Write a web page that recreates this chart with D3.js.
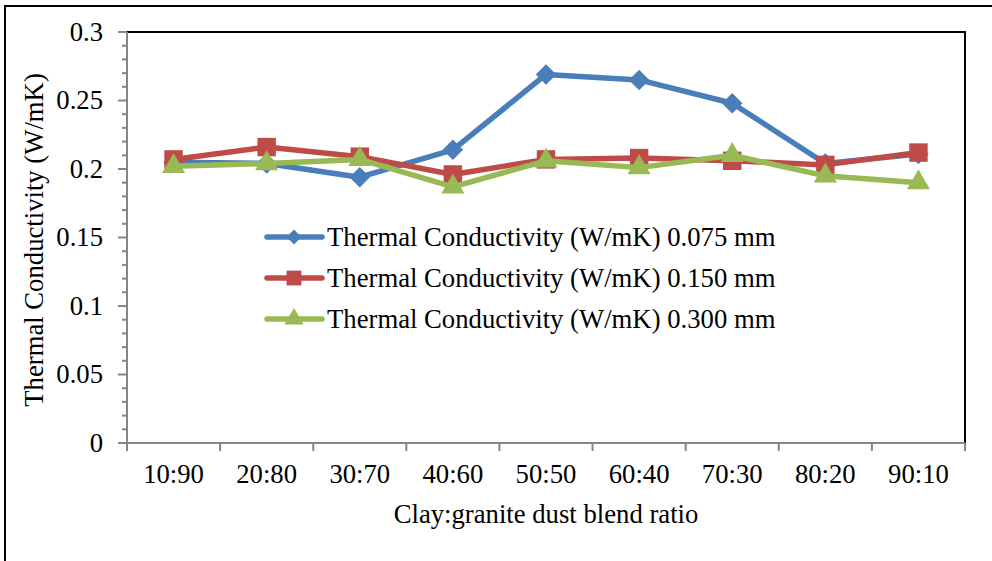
<!DOCTYPE html>
<html>
<head>
<meta charset="utf-8">
<script src="https://cdn.jsdelivr.net/npm/d3@7"></script>
<style>
  body { margin: 0; background: #fff; }
  text { font-family: "Liberation Serif", "Times New Roman", serif; fill: #000; }
</style>
</head>
<body>
<div id="chart"></div>
<script>
// data
const ratios = ["10:90", "20:80", "30:70", "40:60", "50:50", "60:40", "70:30", "80:20", "90:10"];
const tc075 = [0.205, 0.204, 0.194, 0.214, 0.269, 0.265, 0.248, 0.204, 0.211];
const tc150 = [0.207, 0.216, 0.209, 0.196, 0.207, 0.208, 0.206, 0.203, 0.212];
const tc300 = [0.202, 0.204, 0.207, 0.187, 0.206, 0.201, 0.210, 0.195, 0.190];
const seriesNames = [
  "Thermal Conductivity (W/mK) 0.075 mm",
  "Thermal Conductivity (W/mK) 0.150 mm",
  "Thermal Conductivity (W/mK) 0.300 mm"
];
const yTicks = [0, 0.05, 0.1, 0.15, 0.2, 0.25, 0.3];

const W = 992, H = 561;
const plot = {left: 127, top: 32, right: 965, bottom: 443};
const fs = 26.7;

// diamond = square turned 45 degrees (d3's own diamond is too tall)
const diamond = {
  draw(ctx, size) {
    const r = Math.sqrt(size / 2);
    ctx.moveTo(0, -r); ctx.lineTo(r, 0); ctx.lineTo(0, r); ctx.lineTo(-r, 0); ctx.closePath();
  }
};

const series = [
  {name: seriesNames[0], values: tc075, color: "#4A7EBB", shape: diamond, size: 210, lsize: 110},
  {name: seriesNames[1], values: tc150, color: "#BE4B48", shape: d3.symbolSquare, size: 340, lsize: 220},
  {name: seriesNames[2], values: tc300, color: "#98B954", shape: d3.symbolTriangle, size: 230, lsize: 160}
];

const svg = d3.select("#chart").append("svg")
  .attr("width", W).attr("height", H);

// outer frame (runs off the right and bottom of the picture)
svg.append("rect")
  .attr("x", 5).attr("y", 6).attr("width", 1100).attr("height", 700)
  .attr("fill", "none").attr("stroke", "#000").attr("stroke-width", 2);

const x = d3.scaleBand().domain(ratios).range([plot.left, plot.right]);
const y = d3.scaleLinear().domain([0, 0.3]).range([plot.bottom, plot.top]);

// plot area border
svg.append("rect")
  .attr("x", plot.left).attr("y", plot.top)
  .attr("width", plot.right - plot.left).attr("height", plot.bottom - plot.top)
  .attr("fill", "none").attr("stroke", "#000").attr("stroke-width", 2);

// y axis: minor ticks every 0.01, major every 0.05
const yMinor = d3.range(0, 31).map(i => i / 100);
svg.append("g").selectAll("line").data(yMinor).enter().append("line")
  .attr("x1", d => yTicks.some(t => Math.abs(t - d) < 1e-9) ? plot.left - 9 : plot.left - 5)
  .attr("x2", plot.left)
  .attr("y1", d => y(d)).attr("y2", d => y(d))
  .attr("stroke", "#868686").attr("stroke-width", 2);
svg.append("line")
  .attr("x1", plot.left).attr("x2", plot.left)
  .attr("y1", plot.top).attr("y2", plot.bottom)
  .attr("stroke", "#868686").attr("stroke-width", 2);

svg.append("g").selectAll("text").data(yTicks).enter().append("text")
  .attr("text-anchor", "end")
  .attr("x", plot.left - 24)
  .attr("y", d => y(d))
  .attr("dy", "0.32em")
  .style("font-size", fs + "px")
  .text(d => d);

// x axis: ticks on category boundaries
const xEdges = ratios.map(r => x(r)).concat([plot.right]);
svg.append("g").selectAll("line").data(xEdges).enter().append("line")
  .attr("x1", d => d).attr("x2", d => d)
  .attr("y1", plot.bottom).attr("y2", plot.bottom + 8)
  .attr("stroke", "#868686").attr("stroke-width", 2);
svg.append("line")
  .attr("x1", plot.left).attr("x2", plot.right)
  .attr("y1", plot.bottom).attr("y2", plot.bottom)
  .attr("stroke", "#868686").attr("stroke-width", 2);

svg.append("g").selectAll("text").data(ratios).enter().append("text")
  .attr("text-anchor", "middle")
  .attr("x", d => x(d) + x.bandwidth() / 2)
  .attr("y", 483)
  .style("font-size", fs + "px")
  .text(d => d);

// axis titles
svg.append("text")
  .attr("text-anchor", "middle")
  .attr("x", (plot.left + plot.right) / 2)
  .attr("y", 523)
  .style("font-size", fs + "px")
  .text("Clay:granite dust blend ratio");

svg.append("text")
  .attr("text-anchor", "middle")
  .attr("transform", "translate(43,240) rotate(-90)")
  .style("font-size", fs + "px")
  .text("Thermal Conductivity (W/mK)");

// lines + markers
const line = d3.line()
  .x((d, i) => x(ratios[i]) + x.bandwidth() / 2)
  .y(d => y(d));

const sg = svg.append("g").selectAll("g").data(series).enter().append("g");
sg.append("path")
  .attr("d", d => line(d.values))
  .attr("fill", "none")
  .attr("stroke", d => d.color)
  .attr("stroke-width", 5.5)
  .attr("stroke-linejoin", "round");

sg.each(function(s) {
  d3.select(this).selectAll("path.mark").data(s.values).enter().append("path")
    .attr("class", "mark")
    .attr("transform", (v, i) => `translate(${x(ratios[i]) + x.bandwidth() / 2},${y(v)})`)
    .attr("d", d3.symbol().type(s.shape).size(s.size))
    .attr("fill", s.color);
});

// legend
const legendRows = [237, 278, 319];
const lg = svg.append("g").selectAll("g").data(series).enter().append("g")
  .attr("transform", (d, i) => `translate(0,${legendRows[i]})`);
lg.append("line")
  .attr("x1", 267).attr("x2", 322).attr("y1", 0).attr("y2", 0)
  .attr("stroke", d => d.color).attr("stroke-width", 5.5).attr("stroke-linecap", "round");
lg.append("path")
  .attr("transform", "translate(294,0)")
  .attr("d", d => d3.symbol().type(d.shape).size(d.lsize)())
  .attr("fill", d => d.color);
lg.append("text")
  .attr("x", 327)
  .attr("dy", "0.32em")
  .style("font-size", fs + "px")
  .text(d => d.name);
</script>
</body>
</html>
